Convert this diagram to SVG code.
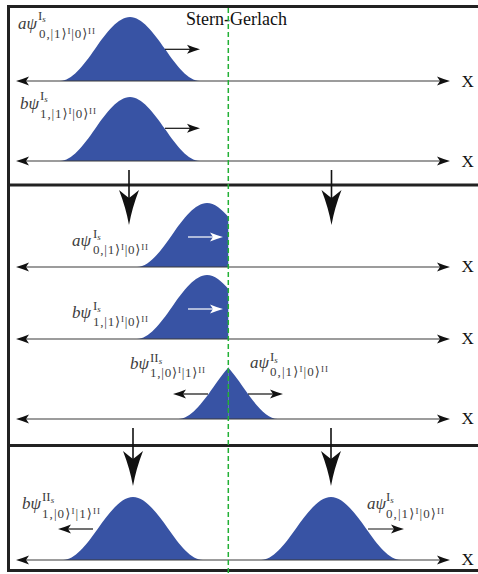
<svg xmlns="http://www.w3.org/2000/svg" width="478" height="574" viewBox="0 0 478 574">
<style>
.frame{stroke:#222;stroke-width:3;fill:none}
.axis{stroke:#3a3a3a;stroke-width:1.1;fill:none;marker-start:url(#ah);marker-end:url(#ah)}
.arr{stroke:#111;stroke-width:1.2;marker-end:url(#ah)}
.warr{stroke:#fff;stroke-width:1.2;marker-end:url(#wh)}
.g{fill:#3853A4}
.m{font-family:"Liberation Serif","DejaVu Serif",serif;fill:#3c3c3c;font-size:13px}
.mi{font-size:17px;font-style:italic}
.s2{font-size:9px}
.it{font-style:italic}
.x{font-family:"Liberation Serif",serif;font-size:17px;fill:#111}
.big{stroke:#111;stroke-width:1.6}
.bh{fill:#111}
.sg{stroke:#22b035;stroke-width:1.5;stroke-dasharray:5 3;fill:none}
.title{font-family:"Liberation Serif",serif;font-size:18px;fill:#111}
</style>
<defs>
<marker id="ah" viewBox="-14 -5 15 10" refX="-3" refY="0" markerWidth="15" markerHeight="10" markerUnits="userSpaceOnUse" orient="auto-start-reverse" overflow="visible">
<path d="M0,0 Q-6,-1.6 -13,-4.5 L-10,0 L-13,4.5 Q-6,1.6 0,0Z" fill="#111"/>
</marker>
<marker id="wh" viewBox="-14 -5 15 10" refX="-3" refY="0" markerWidth="15" markerHeight="10" markerUnits="userSpaceOnUse" orient="auto" overflow="visible">
<path d="M0,0 Q-6,-1.6 -13,-4.5 L-10,0 L-13,4.5 Q-6,1.6 0,0Z" fill="#fff"/>
</marker>
<path id="hann" d="M-70,0 C-58.333,0 -46.667,-15.24 -35,-32 C-23.333,-48.76 -11.667,-64 0,-64 C11.667,-64 23.333,-48.76 35,-32 C46.667,-15.24 58.333,0 70,0 Z"/>
<path id="head" d="M0,0 Q-3,-17 -10,-35 Q-4,-30 0,-27 Q4,-30 10,-35 Q3,-17 0,0Z"/>
<clipPath id="clipL"><rect x="0" y="0" width="228.3" height="574"/></clipPath>
<clipPath id="clipR"><rect x="228.3" y="0" width="250" height="574"/></clipPath>
</defs>

<g id="frame">
<line class="frame" x1="8.5" y1="6.5" x2="478" y2="6.5"/>
<line class="frame" x1="8.5" y1="185" x2="478" y2="185"/>
<line class="frame" x1="8.5" y1="445.5" x2="478" y2="445.5"/>
<line class="frame" x1="8.5" y1="570.5" x2="478" y2="570.5"/>
<line class="frame" x1="8.5" y1="5" x2="8.5" y2="572"/>
</g>

<g id="panel1">
<use href="#hann" class="g" transform="translate(130,81)"/>
<use href="#hann" class="g" transform="translate(130,161)"/>
<line class="axis" x1="19" y1="81" x2="447" y2="81"/>
<line class="axis" x1="19" y1="161" x2="447" y2="161"/>
<text class="x" x="461.5" y="86.5">X</text>
<text class="x" x="461.5" y="166.5">X</text>
<line class="arr" x1="165" y1="49.3" x2="197" y2="49.3"/>
<line class="arr" x1="165" y1="128.3" x2="197" y2="128.3"/>
<g id="lbl1" class="m">
<text class="mi" x="18" y="29">aψ</text>
<text x="38" y="20">I<tspan class="s2 it" dy="2">s</tspan></text>
<text x="39" y="38" textLength="56" lengthAdjust="spacing">0,|1⟩<tspan class="s2" dy="-4">I</tspan><tspan dy="4">|0⟩</tspan><tspan class="s2" dy="-4">II</tspan></text>
</g>
<g id="lbl2" class="m">
<text class="mi" x="20" y="109">bψ</text>
<text x="40" y="100">I<tspan class="s2 it" dy="2">s</tspan></text>
<text x="40" y="118" textLength="56" lengthAdjust="spacing">1,|1⟩<tspan class="s2" dy="-4">I</tspan><tspan dy="4">|0⟩</tspan><tspan class="s2" dy="-4">II</tspan></text>
</g>
</g>

<g id="panel2">
<g clip-path="url(#clipL)">
<use href="#hann" class="g" transform="translate(207,267)"/>
<use href="#hann" class="g" transform="translate(207,339)"/>
<use href="#hann" class="g" transform="translate(248.5,419)"/>
</g>
<g clip-path="url(#clipR)">
<use href="#hann" class="g" transform="translate(208,419)"/>
</g>
<line class="axis" x1="19" y1="267" x2="447" y2="267"/>
<line class="axis" x1="19" y1="339" x2="447" y2="339"/>
<line class="axis" x1="19" y1="419" x2="447" y2="419"/>
<text class="x" x="461.5" y="272">X</text>
<text class="x" x="461.5" y="344">X</text>
<text class="x" x="461.5" y="424">X</text>
<line class="warr" x1="188" y1="237" x2="220" y2="237"/>
<line class="warr" x1="188" y1="309" x2="220" y2="309"/>
<line class="arr" x1="208" y1="394" x2="176" y2="394"/>
<line class="arr" x1="248" y1="394" x2="280" y2="394"/>
<g id="lbl3" class="m">
<text class="mi" x="72" y="246">aψ</text>
<text x="93" y="238">I<tspan class="s2 it" dy="2">s</tspan></text>
<text x="93" y="254" textLength="55" lengthAdjust="spacing">0,|1⟩<tspan class="s2" dy="-4">I</tspan><tspan dy="4">|0⟩</tspan><tspan class="s2" dy="-4">II</tspan></text>
</g>
<g id="lbl4" class="m">
<text class="mi" x="72" y="318">bψ</text>
<text x="93" y="310">I<tspan class="s2 it" dy="2">s</tspan></text>
<text x="93" y="326" textLength="55" lengthAdjust="spacing">1,|1⟩<tspan class="s2" dy="-4">I</tspan><tspan dy="4">|0⟩</tspan><tspan class="s2" dy="-4">II</tspan></text>
</g>
<g id="lbl5" class="m">
<text class="mi" x="130" y="369">bψ</text>
<text x="150" y="362">II<tspan class="s2 it" dy="2">s</tspan></text>
<text x="150" y="377" textLength="55" lengthAdjust="spacing">1,|0⟩<tspan class="s2" dy="-4">I</tspan><tspan dy="4">|1⟩</tspan><tspan class="s2" dy="-4">II</tspan></text>
</g>
<g id="lbl6" class="m">
<text class="mi" x="250" y="368">aψ</text>
<text x="270" y="361">I<tspan class="s2 it" dy="2">s</tspan></text>
<text x="270" y="376" textLength="58" lengthAdjust="spacing">0,|1⟩<tspan class="s2" dy="-4">I</tspan><tspan dy="4">|0⟩</tspan><tspan class="s2" dy="-4">II</tspan></text>
</g>
</g>

<g id="panel3">
<use href="#hann" class="g" transform="translate(133,560) scale(1,0.985)"/>
<use href="#hann" class="g" transform="translate(331,560) scale(1,0.985)"/>
<line class="axis" x1="19" y1="560" x2="447" y2="560"/>
<text class="x" x="461.5" y="565">X</text>
<line class="arr" x1="93" y1="529" x2="61" y2="529"/>
<line class="arr" x1="368" y1="529" x2="401" y2="529"/>
<g id="lbl7" class="m">
<text class="mi" x="22" y="509">bψ</text>
<text x="42" y="501">II<tspan class="s2 it" dy="2">s</tspan></text>
<text x="42" y="518" textLength="58" lengthAdjust="spacing">1,|0⟩<tspan class="s2" dy="-4">I</tspan><tspan dy="4">|1⟩</tspan><tspan class="s2" dy="-4">II</tspan></text>
</g>
<g id="lbl8" class="m">
<text class="mi" x="367" y="509">aψ</text>
<text x="386" y="501">I<tspan class="s2 it" dy="2">s</tspan></text>
<text x="386" y="518" textLength="58" lengthAdjust="spacing">0,|1⟩<tspan class="s2" dy="-4">I</tspan><tspan dy="4">|0⟩</tspan><tspan class="s2" dy="-4">II</tspan></text>
</g>
</g>

<g id="connectors">
<line class="big" x1="129" y1="170" x2="129" y2="200"/>
<use href="#head" class="bh" transform="translate(129,225)"/>
<line class="big" x1="331.5" y1="170" x2="331.5" y2="200"/>
<use href="#head" class="bh" transform="translate(331.5,225)"/>
<line class="big" x1="133" y1="428" x2="133" y2="460"/>
<use href="#head" class="bh" transform="translate(133,486)"/>
<line class="big" x1="331" y1="428" x2="331" y2="460"/>
<use href="#head" class="bh" transform="translate(331,486)"/>
</g>

<g id="stern-gerlach">
<text class="title" x="186" y="25">Stern-Gerlach</text>
<line class="sg" x1="228.3" y1="8" x2="228.3" y2="574"/>
</g>
</svg>
